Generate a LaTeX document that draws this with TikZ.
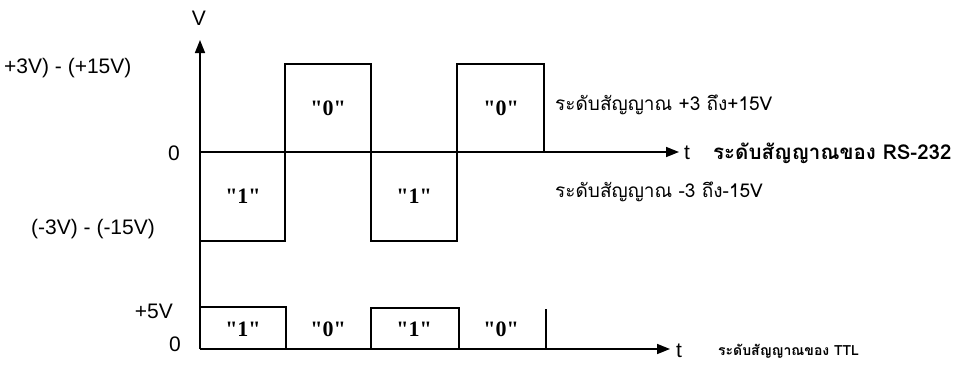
\documentclass[tikz,border=0pt]{standalone}
\usepackage{fontspec}
\setmainfont{Liberation Sans}
\newfontfamily\thaifont[Script=Thai]{Loma}
\newfontfamily\bitfont{Liberation Serif}
\usetikzlibrary{arrows.meta}

\begin{document}
\begin{tikzpicture}[x=1pt, y=-1pt,
  axis/.style={line width=1.6pt, -{Triangle[length=13pt, width=10pt]}},
  wave/.style={line width=1.6pt},
  lbl/.style={font=\fontsize{21}{24}\selectfont, inner sep=0pt},
  bit/.style={font=\bitfont\bfseries\fontsize{22}{26}\selectfont, inner sep=0pt},
  note/.style={font=\thaifont\fontsize{19}{22}\selectfont, inner sep=0pt, anchor=west},
  heading/.style={font=\thaifont\bfseries\fontsize{20.5}{24}\selectfont, inner sep=0pt, anchor=west}]
  \useasboundingbox (0,0) rectangle (958,365);
  % axes
  \draw[axis] (200,349) -- (200,40);
  \draw[axis] (200,152) -- (679,152);
  \draw[axis] (200,349) -- (670,349);
  \node[lbl] (vlab) at (199,18) {V};
  \node[lbl] (trs) at (687,153) {t};
  \node[lbl] (tttl) at (679,351) {t};
  % RS-232 waveform
  \draw[wave] (200,241) -- (285,241) -- (285,64) -- (371,64) -- (371,241)
    -- (457,241) -- (457,64) -- (544,64) -- (544,152);
  % TTL waveform
  \draw[wave] (200,307) -- (286,307) -- (286,349);
  \draw[wave] (371,349) -- (371,308) -- (459,308) -- (459,349);
  \draw[wave] (546,309) -- (546,349);
  % level labels
  \node[lbl, anchor=west] (hi) at (4,68) {+3V) - (+15V)};
  \node[lbl] (zrs) at (174,153) {0};
  \node[lbl, anchor=west] (lo) at (31,229) {(-3V) - (-15V)};
  \node[lbl, anchor=east] (five) at (173,311) {+5V};
  \node[lbl] (zttl) at (175,344) {0};
  % bit labels
  \node[bit] (b1) at (243,196) {"1"};
  \node[bit] (b2) at (328,108) {"0"};
  \node[bit] (b3) at (414,196) {"1"};
  \node[bit] (b4) at (501,108) {"0"};
  \node[bit] (c1) at (243,329) {"1"};
  \node[bit] (c2) at (328,329) {"0"};
  \node[bit] (c3) at (414,329) {"1"};
  \node[bit] (c4) at (501,329) {"0"};
  % notes
  \node[note] (nhi) at (555,105) {ระดับสัญญาณ +3 ถึง+15V};
  \node[note] (nlo) at (555,192) {ระดับสัญญาณ -3 ถึง-15V};
  \node[heading] (hrs) at (713,153) {ระดับสัญญาณของ RS-232};
  \node[heading, font=\thaifont\bfseries\fontsize{14}{17}\selectfont] (httl) at (718,351) {ระดับสัญญาณของ TTL};
\end{tikzpicture}
\end{document}
